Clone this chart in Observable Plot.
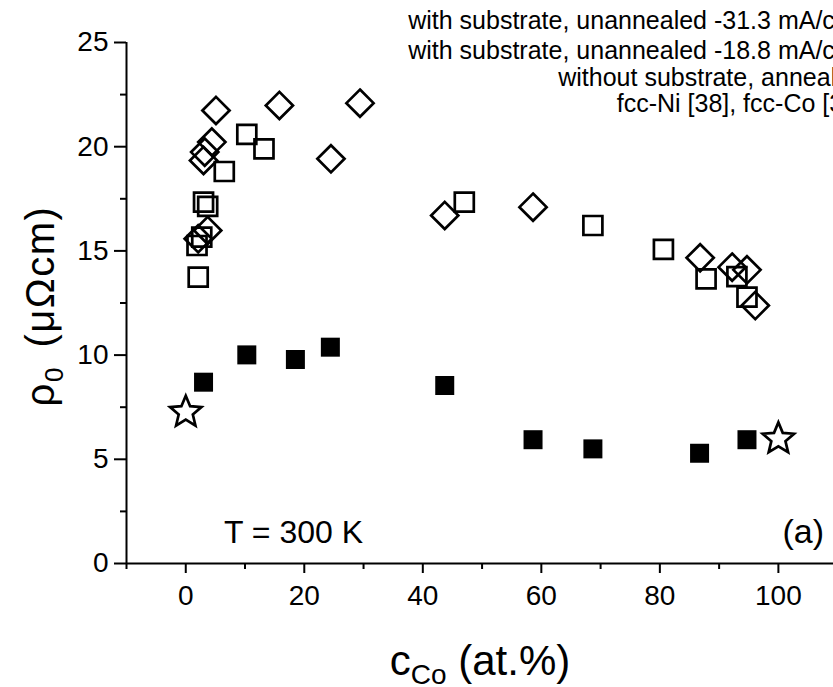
<!DOCTYPE html>
<html><head><meta charset="utf-8">
<script src="https://cdn.jsdelivr.net/npm/d3@7"></script>
<script src="https://cdn.jsdelivr.net/npm/@observablehq/plot@0.6"></script>
<style>
html,body{margin:0;padding:0;background:#fff;overflow:hidden;}
#chart svg{display:block;overflow:hidden;}
</style></head><body><div id="chart"></div>
<script>
// ---- data ----
// with substrate, unannealed -31.3 mA/cm² (open squares)
const sqOpenX = [10.3, 13.2, 6.5, 3.0, 3.7, 2.7, 1.9, 2.1, 47.0, 68.7, 80.6, 87.8, 93.0, 94.7];
const sqOpenY = [20.59, 19.90, 18.81, 17.34, 17.14, 15.66, 15.26, 13.74, 17.34, 16.22, 15.07, 13.66, 13.77, 12.78];
// with substrate, unannealed -18.8 mA/cm² (open diamonds)
const diaX = [5.1, 15.8, 29.4, 24.5, 4.4, 3.2, 3.0, 3.7, 2.1, 43.7, 58.6, 86.8, 92.2, 94.7, 96.1];
const diaY = [21.74, 21.98, 22.09, 19.42, 20.22, 19.74, 19.34, 15.98, 15.58, 16.70, 17.10, 14.67, 14.22, 14.09, 12.38];
// without substrate, annealed (filled squares)
const sqFillX = [3.0, 10.3, 18.5, 24.4, 43.7, 58.6, 68.7, 86.7, 94.7];
const sqFillY = [8.70, 10.01, 9.79, 10.38, 8.54, 5.94, 5.50, 5.29, 5.94];
// fcc-Ni [38], fcc-Co [39] (open stars)
const starX = [0, 100];
const starY = [7.26, 5.98];

const xMajor = [0, 20, 40, 60, 80, 100];
const xMinor = [-10, 10, 30, 50, 70, 90];
const yMajor = [0, 5, 10, 15, 20, 25];
const yMinor = [2.5, 7.5, 12.5, 17.5, 22.5];
const xDomain = [-10, 109.3];
const yDomain = [0, 25];

const legendLabels = [
  "with substrate, unannealed -31.3 mA/cm²",
  "with substrate, unannealed -18.8 mA/cm²",
  "without substrate, annealed",
  "fcc-Ni [38], fcc-Co [39]"
];
const tempLabel = "T = 300 K";
const panelLabel = "(a)";

// ---- symbols ----
const sqSym = {draw(ctx, size){const r=Math.sqrt(size/Math.PI); ctx.moveTo(-r,-r); ctx.lineTo(r,-r); ctx.lineTo(r,r); ctx.lineTo(-r,r); ctx.closePath();}};
const diaSym = {draw(ctx, size){const r=Math.sqrt(size/Math.PI); ctx.moveTo(0,-r); ctx.lineTo(r,0); ctx.lineTo(0,r); ctx.lineTo(-r,0); ctx.closePath();}};
const starSym = {draw(ctx, size){const R=Math.sqrt(size/Math.PI), ri=R*0.45; for(let i=0;i<10;i++){const a=-Math.PI/2+i*Math.PI/5; const rr=i%2?ri:R; const px=rr*Math.cos(a), py=rr*Math.sin(a); if(i) ctx.lineTo(px,py); else ctx.moveTo(px,py);} ctx.closePath();}};

const zip = (xs, ys) => xs.map((x, i) => ({x, y: ys[i]}));

const plot = Plot.plot({
  width: 833, height: 687,
  marginLeft: 126, marginRight: 0, marginTop: 42, marginBottom: 124,
  x: {domain: xDomain},
  y: {domain: yDomain},
  style: {fontFamily: "'Liberation Sans', Arial, sans-serif", color: "black", background: "white"},
  marks: [
    Plot.ruleY([yDomain[0]], {strokeWidth: 2}),
    Plot.ruleX([xDomain[0]], {y1: yDomain[0], y2: yDomain[1], strokeWidth: 2}),
    Plot.axisX(xMajor, {tickSize: 10, tickPadding: 12, fontSize: 28, strokeWidth: 2, label: null}),
    Plot.axisX(xMinor, {tickSize: 6, tickFormat: () => "", strokeWidth: 2, label: null}),
    Plot.axisY(yMajor, {tickSize: 12, tickPadding: 6, fontSize: 28, strokeWidth: 2, label: null}),
    Plot.axisY(yMinor, {tickSize: 6, tickFormat: () => "", strokeWidth: 2, label: null}),
    Plot.dot(zip(sqFillX, sqFillY), {x: "x", y: "y", symbol: sqSym, r: 9.5, fill: "black", stroke: "none"}),
    Plot.dot(zip(sqOpenX, sqOpenY), {x: "x", y: "y", symbol: sqSym, r: 9.5, fill: "none", stroke: "black", strokeWidth: 2.7, strokeLinejoin: "miter"}),
    Plot.dot(zip(diaX, diaY), {x: "x", y: "y", symbol: diaSym, r: 13.6, fill: "none", stroke: "black", strokeWidth: 2.7, strokeLinejoin: "miter"}),
    Plot.dot(zip(starX, starY), {x: "x", y: "y", symbol: starSym, r: 16.5, fill: "none", stroke: "black", strokeWidth: 2.7, strokeLinejoin: "miter"})
  ]
});
document.getElementById("chart").appendChild(plot);

const svg = d3.select(plot);
const font = "'Liberation Sans', Arial, sans-serif";
const g = svg.append("g").attr("font-family", font).attr("fill", "black").attr("text-anchor", "start");
const legendBaselines = [29, 59, 86, 112];
legendLabels.forEach((t, i) => {
  g.append("text").attr("x", 864).attr("y", legendBaselines[i]).attr("text-anchor", "end")
    .attr("font-size", 25).text(t);
});
g.append("text").attr("x", 224).attr("y", 543).attr("text-anchor", "start").attr("font-size", 32).text(tempLabel);
g.append("text").attr("x", 824).attr("y", 543).attr("text-anchor", "end").attr("font-size", 34).text(panelLabel);

const xt = g.append("text").attr("x", 480).attr("y", 675).attr("text-anchor", "middle").attr("font-size", 42);
xt.append("tspan").text("c");
xt.append("tspan").attr("font-size", 28).attr("dy", 9).text("Co");
xt.append("tspan").attr("dy", -9).text(" (at.%)");

const yt = g.append("text").attr("transform", "translate(54,306) rotate(-90)").attr("text-anchor", "middle")
  .attr("font-size", 40).attr("letter-spacing", 1.5);
yt.append("tspan").text("ρ");
yt.append("tspan").attr("font-size", 26).attr("dy", 9).text("0");
yt.append("tspan").attr("dy", -9).attr("dx", 6).text(" (μΩcm)");
</script>
</body></html>
